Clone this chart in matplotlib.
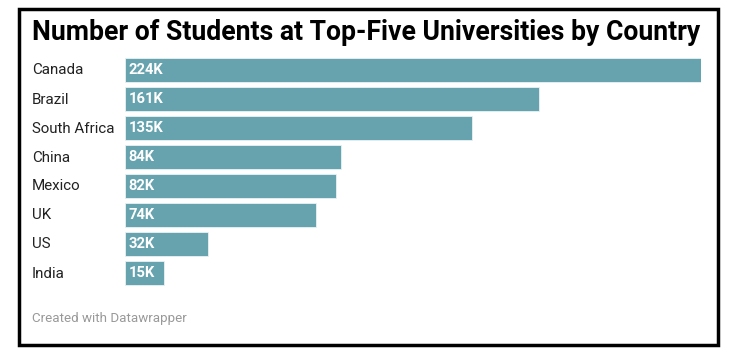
import matplotlib.pyplot as plt
from matplotlib.patches import Rectangle

# data
countries = ["Canada", "Brazil", "South Africa", "China", "Mexico", "UK", "US", "India"]
students_k = [224, 161, 135, 84, 82, 74, 32, 15]

BAR_COLOR = "#66a3ae"
W, H = 740, 362

plt.rcParams["font.family"] = ["Roboto", "DejaVu Sans"]

fig = plt.figure(figsize=(W / 100, H / 100), dpi=100)


def fx(px):
    return px / W


def fy(py):
    return 1 - py / H


# frame around the chart
fig.patches.append(Rectangle((fx(18.5), fy(344.5)), fx(699), 343 / H - 7.5 / H,
                             transform=fig.transFigure, fill=False,
                             edgecolor="black", linewidth=2.5))

# bars area
ax = fig.add_axes([fx(125.5), fy(287.5), fx(575.5), (287.5 - 55.5) / H])
ypos = list(range(len(countries)))
ax.barh(ypos, students_k, height=24 / 29, color=BAR_COLOR,
        edgecolor="#eaf2f3", linewidth=0.6)
ax.set_xlim(0, max(students_k))
ax.set_ylim(len(countries) - 0.5, -0.5)
ax.axis("off")

for y, name, v in zip(ypos, countries, students_k):
    ax.text(1.2, y, f"{v}K", color="white", fontsize=10.6, fontweight="bold",
            va="center", ha="left")
    fig.text(fx(32), fy(70.5 + 29 * y), name, fontsize=10.9, color="#222222",
             va="center", ha="left")

fig.text(fx(32), fy(40), "Number of Students at Top-Five Universities by Country",
         fontsize=19.2, fontweight="bold", color="black", va="baseline", ha="left")
fig.text(fx(32), fy(322), "Created with Datawrapper", fontsize=9.6,
         color="#999999", va="baseline", ha="left")

fig.savefig("out.png", dpi=100, facecolor="white")
